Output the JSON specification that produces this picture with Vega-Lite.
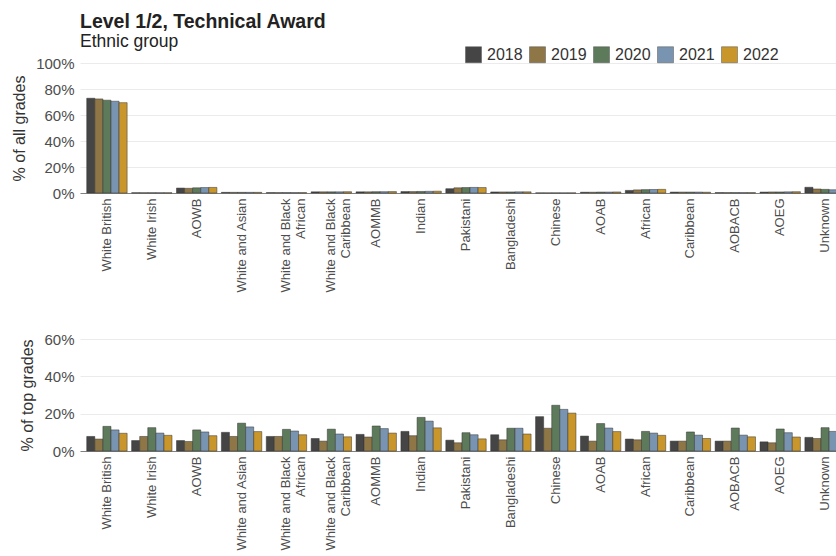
{
  "$schema": "https://vega.github.io/schema/vega-lite/v6.json",
  "padding": {"left": 11, "top": 12, "right": 0, "bottom": 0},
  "background": "white",
  "config": {
    "font": "Liberation Sans",
    "view": {"stroke": null},
    "axis": {"labelColor": "#4d4d4d", "titleColor": "#333333", "titleFontWeight": "normal"}
  },
  "data": {
    "values": [
      {"group": "White British", "year": "2018", "all": 72.9, "top": 7.8},
      {"group": "White British", "year": "2019", "all": 72.4, "top": 6.4},
      {"group": "White British", "year": "2020", "all": 71.4, "top": 13.2},
      {"group": "White British", "year": "2021", "all": 70.6, "top": 11.3},
      {"group": "White British", "year": "2022", "all": 69.5, "top": 9.5},
      {"group": "White Irish", "year": "2018", "all": 0.2, "top": 5.6},
      {"group": "White Irish", "year": "2019", "all": 0.2, "top": 7.8},
      {"group": "White Irish", "year": "2020", "all": 0.2, "top": 12.5},
      {"group": "White Irish", "year": "2021", "all": 0.2, "top": 9.6},
      {"group": "White Irish", "year": "2022", "all": 0.2, "top": 8.4},
      {"group": "AOWB", "year": "2018", "all": 3.8, "top": 5.6},
      {"group": "AOWB", "year": "2019", "all": 3.6, "top": 5.1},
      {"group": "AOWB", "year": "2020", "all": 4.0, "top": 11.3},
      {"group": "AOWB", "year": "2021", "all": 4.2, "top": 10.2},
      {"group": "AOWB", "year": "2022", "all": 4.3, "top": 8.2},
      {"group": "White and Asian", "year": "2018", "all": 0.5, "top": 10.0},
      {"group": "White and Asian", "year": "2019", "all": 0.5, "top": 7.8},
      {"group": "White and Asian", "year": "2020", "all": 0.5, "top": 14.9},
      {"group": "White and Asian", "year": "2021", "all": 0.5, "top": 12.9},
      {"group": "White and Asian", "year": "2022", "all": 0.5, "top": 10.4},
      {"group": "White and Black African", "year": "2018", "all": 0.3, "top": 7.8},
      {"group": "White and Black African", "year": "2019", "all": 0.3, "top": 7.8},
      {"group": "White and Black African", "year": "2020", "all": 0.3, "top": 11.6},
      {"group": "White and Black African", "year": "2021", "all": 0.3, "top": 10.7},
      {"group": "White and Black African", "year": "2022", "all": 0.3, "top": 8.7},
      {"group": "White and Black Caribbean", "year": "2018", "all": 0.9, "top": 6.7},
      {"group": "White and Black Caribbean", "year": "2019", "all": 0.9, "top": 5.3},
      {"group": "White and Black Caribbean", "year": "2020", "all": 0.9, "top": 11.7},
      {"group": "White and Black Caribbean", "year": "2021", "all": 0.9, "top": 9.1},
      {"group": "White and Black Caribbean", "year": "2022", "all": 1.0, "top": 7.6},
      {"group": "AOMMB", "year": "2018", "all": 0.9, "top": 8.9},
      {"group": "AOMMB", "year": "2019", "all": 0.9, "top": 7.5},
      {"group": "AOMMB", "year": "2020", "all": 1.0, "top": 13.4},
      {"group": "AOMMB", "year": "2021", "all": 1.0, "top": 12.0},
      {"group": "AOMMB", "year": "2022", "all": 1.1, "top": 9.6},
      {"group": "Indian", "year": "2018", "all": 1.1, "top": 10.5},
      {"group": "Indian", "year": "2019", "all": 1.1, "top": 8.2},
      {"group": "Indian", "year": "2020", "all": 1.2, "top": 18.0},
      {"group": "Indian", "year": "2021", "all": 1.3, "top": 16.0},
      {"group": "Indian", "year": "2022", "all": 1.4, "top": 12.4},
      {"group": "Pakistani", "year": "2018", "all": 3.3, "top": 5.8},
      {"group": "Pakistani", "year": "2019", "all": 4.0, "top": 4.4},
      {"group": "Pakistani", "year": "2020", "all": 4.2, "top": 9.8},
      {"group": "Pakistani", "year": "2021", "all": 4.3, "top": 8.7},
      {"group": "Pakistani", "year": "2022", "all": 4.2, "top": 6.5},
      {"group": "Bangladeshi", "year": "2018", "all": 0.8, "top": 8.7},
      {"group": "Bangladeshi", "year": "2019", "all": 0.8, "top": 6.0},
      {"group": "Bangladeshi", "year": "2020", "all": 0.8, "top": 12.2},
      {"group": "Bangladeshi", "year": "2021", "all": 0.9, "top": 12.2},
      {"group": "Bangladeshi", "year": "2022", "all": 0.9, "top": 9.1},
      {"group": "Chinese", "year": "2018", "all": 0.1, "top": 18.4},
      {"group": "Chinese", "year": "2019", "all": 0.1, "top": 12.2},
      {"group": "Chinese", "year": "2020", "all": 0.1, "top": 24.5},
      {"group": "Chinese", "year": "2021", "all": 0.1, "top": 22.3},
      {"group": "Chinese", "year": "2022", "all": 0.1, "top": 20.3},
      {"group": "AOAB", "year": "2018", "all": 0.6, "top": 8.0},
      {"group": "AOAB", "year": "2019", "all": 0.6, "top": 5.3},
      {"group": "AOAB", "year": "2020", "all": 0.7, "top": 14.7},
      {"group": "AOAB", "year": "2021", "all": 0.7, "top": 12.3},
      {"group": "AOAB", "year": "2022", "all": 0.8, "top": 10.4},
      {"group": "African", "year": "2018", "all": 2.0, "top": 6.4},
      {"group": "African", "year": "2019", "all": 2.4, "top": 6.0},
      {"group": "African", "year": "2020", "all": 2.6, "top": 10.5},
      {"group": "African", "year": "2021", "all": 2.7, "top": 9.6},
      {"group": "African", "year": "2022", "all": 2.8, "top": 8.4},
      {"group": "Caribbean", "year": "2018", "all": 0.7, "top": 5.3},
      {"group": "Caribbean", "year": "2019", "all": 0.7, "top": 5.3},
      {"group": "Caribbean", "year": "2020", "all": 0.7, "top": 10.2},
      {"group": "Caribbean", "year": "2021", "all": 0.7, "top": 8.5},
      {"group": "Caribbean", "year": "2022", "all": 0.6, "top": 6.7},
      {"group": "AOBACB", "year": "2018", "all": 0.3, "top": 5.3},
      {"group": "AOBACB", "year": "2019", "all": 0.3, "top": 5.3},
      {"group": "AOBACB", "year": "2020", "all": 0.3, "top": 12.3},
      {"group": "AOBACB", "year": "2021", "all": 0.3, "top": 8.5},
      {"group": "AOBACB", "year": "2022", "all": 0.3, "top": 7.6},
      {"group": "AOEG", "year": "2018", "all": 0.7, "top": 4.9},
      {"group": "AOEG", "year": "2019", "all": 0.8, "top": 4.4},
      {"group": "AOEG", "year": "2020", "all": 0.8, "top": 11.8},
      {"group": "AOEG", "year": "2021", "all": 0.9, "top": 9.8},
      {"group": "AOEG", "year": "2022", "all": 1.0, "top": 7.5},
      {"group": "Unknown", "year": "2018", "all": 4.4, "top": 7.3},
      {"group": "Unknown", "year": "2019", "all": 3.1, "top": 6.7},
      {"group": "Unknown", "year": "2020", "all": 2.8, "top": 12.5},
      {"group": "Unknown", "year": "2021", "all": 2.5, "top": 10.5},
      {"group": "Unknown", "year": "2022", "all": 2.3, "top": 8.8}
    ]
  },
  "spacing": 39,
  "resolve": {"legend": {"color": "independent"}},
  "vconcat": [
    {
      "width": 772,
      "height": 130,
      "title": {
        "text": "Level 1/2, Technical Award",
        "subtitle": "Ethnic group",
        "anchor": "start",
        "frame": "group",
        "fontSize": 19.5,
        "fontWeight": "bold",
        "color": "#222222",
        "subtitleFontSize": 17.5,
        "subtitleColor": "#222222",
        "subtitlePadding": 0,
        "offset": -5
      },
      "mark": {"type": "bar", "stroke": "#333333", "strokeWidth": 0.5},
      "encoding": {
        "x": {
          "field": "group", "type": "nominal", "sort": null,
          "scale": {"paddingInner": 0.1, "paddingOuter": 0.15},
          "axis": {
            "title": null, "labelAngle": -90, "labelFontSize": 13, "labelPadding": 5,
            "ticks": false, "tickSize": 0, "domainColor": "#808080", "domainWidth": 1,
            "labelExpr": "indexof(datum.value, 'White and Black') == 0 ? ['White and Black', replace(datum.value, 'White and Black ', '')] : datum.value"
          }
        },
        "xOffset": {"field": "year", "type": "nominal", "scale": {"paddingInner": 0, "paddingOuter": 0}},
        "y": {
          "field": "all", "type": "quantitative",
          "scale": {"domain": [0, 100], "nice": false},
          "axis": {
            "title": "% of all grades", "values": [0, 20, 40, 60, 80, 100],
            "labelExpr": "datum.value + '%'", "labelFontSize": 15, "titleFontSize": 16,
            "labelPadding": 6, "titlePadding": 8, "ticks": false, "tickSize": 0, "domain": false,
            "gridColor": "#ebebeb", "gridWidth": 1
          }
        },
        "color": {
          "field": "year", "type": "nominal",
          "scale": {"domain": ["2018", "2019", "2020", "2021", "2022"], "range": ["#454545", "#8e7646", "#5d7a5a", "#7994b1", "#c9962b"]},
          "legend": {
            "title": null, "orient": "none", "direction": "horizontal",
            "legendX": 385, "legendY": -17,
            "symbolType": "square", "symbolSize": 256, "symbolStrokeColor": "#555555", "symbolStrokeWidth": 0.5,
            "symbolOpacity": 1,
            "labelFontSize": 16, "labelColor": "#333333", "labelOffset": 5, "columnPadding": 5, "padding": 0
          }
        }
      }
    },
    {
      "width": 772,
      "height": 112,
      "mark": {"type": "bar", "stroke": "#333333", "strokeWidth": 0.5},
      "encoding": {
        "x": {
          "field": "group", "type": "nominal", "sort": null,
          "scale": {"paddingInner": 0.1, "paddingOuter": 0.15},
          "axis": {
            "title": null, "labelAngle": -90, "labelFontSize": 13, "labelPadding": 5,
            "ticks": false, "tickSize": 0, "domainColor": "#808080", "domainWidth": 1,
            "labelExpr": "indexof(datum.value, 'White and Black') == 0 ? ['White and Black', replace(datum.value, 'White and Black ', '')] : datum.value"
          }
        },
        "xOffset": {"field": "year", "type": "nominal", "scale": {"paddingInner": 0, "paddingOuter": 0}},
        "y": {
          "field": "top", "type": "quantitative",
          "scale": {"domain": [0, 60], "nice": false},
          "axis": {
            "title": "% of top grades", "values": [0, 20, 40, 60],
            "labelExpr": "datum.value + '%'", "labelFontSize": 15, "titleFontSize": 16,
            "labelPadding": 6, "titlePadding": 8, "ticks": false, "tickSize": 0, "domain": false,
            "gridColor": "#ebebeb", "gridWidth": 1
          }
        },
        "color": {
          "field": "year", "type": "nominal",
          "scale": {"domain": ["2018", "2019", "2020", "2021", "2022"], "range": ["#454545", "#8e7646", "#5d7a5a", "#7994b1", "#c9962b"]},
          "legend": null
        }
      }
    }
  ]
}
